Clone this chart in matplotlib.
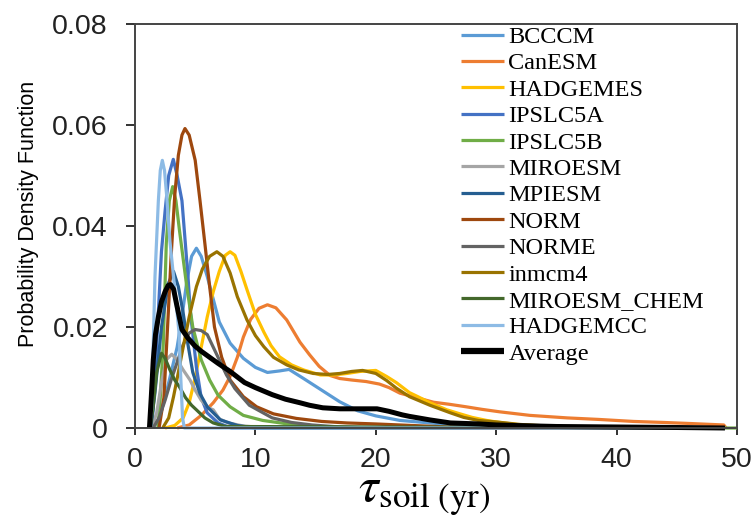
import matplotlib
matplotlib.use('Agg')
import matplotlib.pyplot as plt
from matplotlib import font_manager

# soil turnover time distributions per model (tau in yr, pdf)
models = ['BCCCM', 'CanESM', 'HADGEMES', 'IPSLC5A', 'IPSLC5B', 'MIROESM',
          'MPIESM', 'NORM', 'NORME', 'inmcm4', 'MIROESM_CHEM', 'HADGEMCC', 'Average']
colors = ['#5B9BD5', '#ED7D31', '#FFC000', '#4472C4', '#70AD47', '#A5A5A5',
          '#255E91', '#9E480E', '#636363', '#997300', '#43682B', '#8DBBE5', 'black']

bcccm_x = [1.5, 2.0, 2.5, 3.0, 3.5, 3.9, 4.3, 4.7, 5.1, 5.5, 6.0, 6.5, 7.0, 7.9, 9.0, 10.0, 11.0, 12.0,
           12.8, 14.0, 15.5, 17.0, 18.5, 20.0, 22.0, 25.0, 28.0, 32.0, 40.0, 49.0]
bcccm_y = [0, 0.002, 0.006, 0.011, 0.016, 0.022, 0.029, 0.034, 0.0356, 0.034, 0.030, 0.0255, 0.021,
           0.0168, 0.0138, 0.012, 0.011, 0.0113, 0.0116, 0.0098, 0.0075, 0.0052, 0.0034, 0.0024, 0.0015,
           0.0009, 0.0005, 0.0002, 0.0001, 0]

canesm_x = [3.5, 4.5, 5.5, 6.5, 7.3, 7.9, 8.5, 9.0, 9.6, 10.3, 11.0, 11.7, 12.6, 13.7, 14.5, 15.3, 16.2,
            17.0, 18.0, 19.2, 20.3, 21.1, 22.0, 23.4, 24.8, 26.1, 27.5, 28.8, 30.3, 32.8, 35.9, 38.5,
            41.4, 43.9, 46.0, 48.9, 49.1]
canesm_y = [0, 0.0006, 0.0025, 0.005, 0.0075, 0.0102, 0.014, 0.018, 0.0215, 0.0237, 0.0244, 0.0238,
            0.0214, 0.0170, 0.0145, 0.0122, 0.0104, 0.0098, 0.0095, 0.0092, 0.0087, 0.0080, 0.0069,
            0.0060, 0.0051, 0.0047, 0.0042, 0.0037, 0.0032, 0.0025, 0.0020, 0.0017, 0.0013, 0.0011,
            0.0009, 0.0006, 0]

hadgemes_x = [2.5, 3.3, 4.0, 4.5, 5.0, 5.5, 6.0, 6.5, 7.0, 7.5, 7.9, 8.3, 8.8, 9.3, 10.0, 10.7, 11.3,
              12.0, 13.0, 14.0, 15.4, 16.5, 17.6, 18.7, 20.0, 20.9, 21.7, 22.8, 23.5, 24.5, 25.9, 27.0,
              28.0, 29.2, 30.0, 32.0, 35.0, 40.0, 49.0]
hadgemes_y = [0, 0.0005, 0.002, 0.005, 0.010, 0.016, 0.022, 0.027, 0.031, 0.0342, 0.0349, 0.0342,
              0.031, 0.0274, 0.0225, 0.019, 0.0163, 0.0141, 0.0125, 0.0115, 0.0105, 0.0105, 0.0108,
              0.0112, 0.0114, 0.0102, 0.0090, 0.0070, 0.0062, 0.0050, 0.0036, 0.0028, 0.0021, 0.0015,
              0.0012, 0.0006, 0.0003, 0.0001, 0]

ipslc5a_x = [1.4, 1.66, 1.94, 2.2, 2.5, 2.8, 3.18, 3.5, 3.9, 4.4, 4.6, 5.1, 5.5, 6.0, 6.9, 8.0, 49.0]
ipslc5a_y = [0, 0.010, 0.023, 0.035, 0.043, 0.050, 0.0532, 0.050, 0.045, 0.030, 0.023, 0.012, 0.006,
             0.003, 0.001, 0, 0]

ipslc5b_x = [1.9, 2.1, 2.35, 2.6, 2.85, 3.13, 3.4, 3.7, 4.3, 4.8, 5.5, 6.2, 6.9, 7.9, 9.0, 10.6, 13.0,
             16.0, 20.0, 50.0]
ipslc5b_y = [0, 0.006, 0.0168, 0.0366, 0.045, 0.0478, 0.045, 0.039, 0.028, 0.020, 0.0135, 0.0095,
             0.0065, 0.0042, 0.0025, 0.0015, 0.0007, 0.0002, 0, 0]

miroesm_x = [1.4, 1.8, 2.2, 2.6, 3.05, 3.5, 4.0, 4.57, 5.0, 5.5, 6.1, 6.5, 7.0, 7.75, 9.0, 11.0, 49.0]
miroesm_y = [0, 0.003, 0.009, 0.0135, 0.0146, 0.0135, 0.0115, 0.0095, 0.0075, 0.0055, 0.0040, 0.0036,
             0.0018, 0.001, 0.0004, 0, 0]

mpiesm_x = [1.3, 1.66, 2.2, 2.77, 3.2, 3.6, 4.0, 4.4, 4.8, 5.4, 6.0, 7.1, 8.5, 10.0, 49.0]
mpiesm_y = [0, 0.007, 0.020, 0.0286, 0.031, 0.028, 0.0228, 0.0165, 0.011, 0.0068, 0.0042, 0.0016,
            0.0005, 0, 0]

norm_x = [2.0, 2.4, 2.77, 3.0, 3.3, 3.6, 3.9, 4.15, 4.5, 5.0, 5.4, 5.8, 6.2, 6.6, 7.2, 7.9, 9.0, 10.1,
          11.5, 13.4, 15.5, 17.6, 20.0, 23.0, 26.0, 30.0, 49.0]
norm_y = [0, 0.006, 0.023, 0.034, 0.046, 0.054, 0.058, 0.0593, 0.058, 0.053, 0.045, 0.0366, 0.028,
          0.020, 0.014, 0.0095, 0.0062, 0.0042, 0.0028, 0.0019, 0.0013, 0.0010, 0.0008, 0.0005,
          0.0002, 0, 0]

norme_x = [1.5, 2.0, 2.5, 3.0, 3.5, 4.0, 4.5, 5.0, 5.5, 6.0, 6.5, 7.0, 7.6, 8.3, 9.5, 11.4, 13.0, 14.7,
           17.0, 20.0, 49.0]
norme_y = [0, 0.002, 0.0055, 0.0095, 0.013, 0.0165, 0.0188, 0.0195, 0.0193, 0.0185, 0.016, 0.0135,
           0.0105, 0.0078, 0.0045, 0.0020, 0.0011, 0.0006, 0.0002, 0, 0]

inmcm4_x = [2.3, 2.8, 3.2, 3.6, 4.0, 4.5, 5.1, 5.6, 6.2, 6.8, 7.3, 7.9, 8.5, 9.3, 10.0, 10.7, 11.5,
            12.6, 13.6, 14.8, 16.0, 17.0, 18.0, 18.9, 20.0, 20.9, 21.7, 22.8, 23.4, 24.5, 26.2, 27.3,
            28.5, 30.0, 32.0, 35.0, 40.0, 49.0]
inmcm4_y = [0, 0.002, 0.0062, 0.011, 0.016, 0.022, 0.028, 0.0315, 0.034, 0.0349, 0.034, 0.0307,
            0.026, 0.0214, 0.0183, 0.0161, 0.014, 0.0125, 0.0115, 0.0108, 0.0106, 0.0108, 0.0112,
            0.0114, 0.0108, 0.0094, 0.0079, 0.0062, 0.0056, 0.0045, 0.0030, 0.0021, 0.0015, 0.0012,
            0.0007, 0.0003, 0.0001, 0]

chem_x = [1.25, 1.5, 1.8, 2.2, 2.5, 2.9, 3.3, 3.7, 4.2, 4.7, 5.1, 5.8, 6.5, 7.5, 49.0]
chem_y = [0, 0.004, 0.011, 0.0148, 0.0138, 0.0115, 0.0095, 0.0081, 0.006, 0.0045, 0.0036, 0.002,
          0.001, 0.0003, 0]

hadgemcc_x = [1.2, 1.38, 1.66, 1.94, 2.1, 2.27, 2.45, 2.63, 2.9, 3.2, 3.45, 3.65, 3.8, 3.95, 4.1, 49.0]
hadgemcc_y = [0, 0.0036, 0.030, 0.045, 0.051, 0.053, 0.051, 0.046, 0.037, 0.030, 0.024, 0.019, 0.010,
              0.002, 0, 0]

avg_x = [1.2, 1.35, 1.52, 1.7, 1.94, 2.2, 2.5, 2.75, 2.95, 3.2, 3.5, 3.9, 4.4, 5.0, 5.5, 6.2, 6.9, 7.9,
         9.1, 10.0, 11.4, 12.5, 13.7, 14.5, 15.6, 17.0, 18.7, 20.1, 21.1, 22.2, 22.8, 24.5, 26.2, 28.6,
         30.0, 31.4, 35.0, 40.0, 45.0, 49.0]
avg_y = [0, 0.006, 0.0135, 0.0185, 0.022, 0.025, 0.027, 0.0282, 0.0284, 0.0275, 0.024, 0.0195, 0.0178,
         0.0162, 0.0152, 0.0140, 0.0128, 0.0112, 0.0090, 0.0080, 0.0066, 0.0057, 0.0050, 0.0045,
         0.0040, 0.0038, 0.0038, 0.0038, 0.0033, 0.0026, 0.0023, 0.0016, 0.0010, 0.0008, 0.0006,
         0.0005, 0.0003, 0.0002, 0.0001, 0]

xs = [bcccm_x, canesm_x, hadgemes_x, ipslc5a_x, ipslc5b_x, miroesm_x, mpiesm_x, norm_x, norme_x,
      inmcm4_x, chem_x, hadgemcc_x, avg_x]
ys = [bcccm_y, canesm_y, hadgemes_y, ipslc5a_y, ipslc5b_y, miroesm_y, mpiesm_y, norm_y, norme_y,
      inmcm4_y, chem_y, hadgemcc_y, avg_y]

names = {f.name for f in font_manager.fontManager.ttflist}
sans = 'Liberation Sans Narrow' if 'Liberation Sans Narrow' in names else 'Liberation Sans'
plt.rcParams['font.family'] = sans
plt.rcParams['mathtext.fontset'] = 'stix'

fig = plt.figure(figsize=(7.53, 5.29), dpi=100)
ax = fig.add_axes([135/753, 1-428/529, 602/753, 404/529])

for i in range(len(models)):
    lw = 3.6 if models[i] == 'Average' else 2.3
    ax.plot(xs[i], ys[i], color=colors[i], lw=lw, label=models[i],
            solid_joinstyle='round', solid_capstyle='butt', clip_on=False)

ax.set_xlim(0, 50)
ax.set_ylim(0, 0.08)
ax.set_xticks([0, 10, 20, 30, 40, 50])
ax.set_yticks([0, 0.02, 0.04, 0.06, 0.08])
ax.set_yticklabels(['0', '0.02', '0.04', '0.06', '0.08'])
ax.tick_params(axis='both', labelsize=20.5, colors='#222222', width=1.3)
ax.tick_params(axis='x', direction='out', length=5, pad=9)
ax.tick_params(axis='y', direction='out', length=6.5, pad=13)
for s in ax.spines.values():
    s.set_color('#444444')
    s.set_linewidth(1.4)

ax.set_ylabel('Probability Density Function', fontsize=15.5)
ax.yaxis.set_label_coords(-0.16, 0.53)
ax.set_xlabel(r'$\tau_{\mathrm{soil\ (yr)}}$', fontsize=36)
ax.xaxis.set_label_coords(0.48, -0.11)

leg = ax.legend(loc='upper left', bbox_to_anchor=(461/753, 1-26/529), bbox_transform=fig.transFigure,
                frameon=False, prop={'family': 'Liberation Serif', 'size': 17.5},
                handlelength=1.75, handletextpad=0.2, labelspacing=0.18, borderpad=0, borderaxespad=0)
for line in leg.get_lines():
    line.set_linewidth(2.3)
leg.get_lines()[-1].set_linewidth(4.5)

fig.savefig('out.png', dpi=100)
